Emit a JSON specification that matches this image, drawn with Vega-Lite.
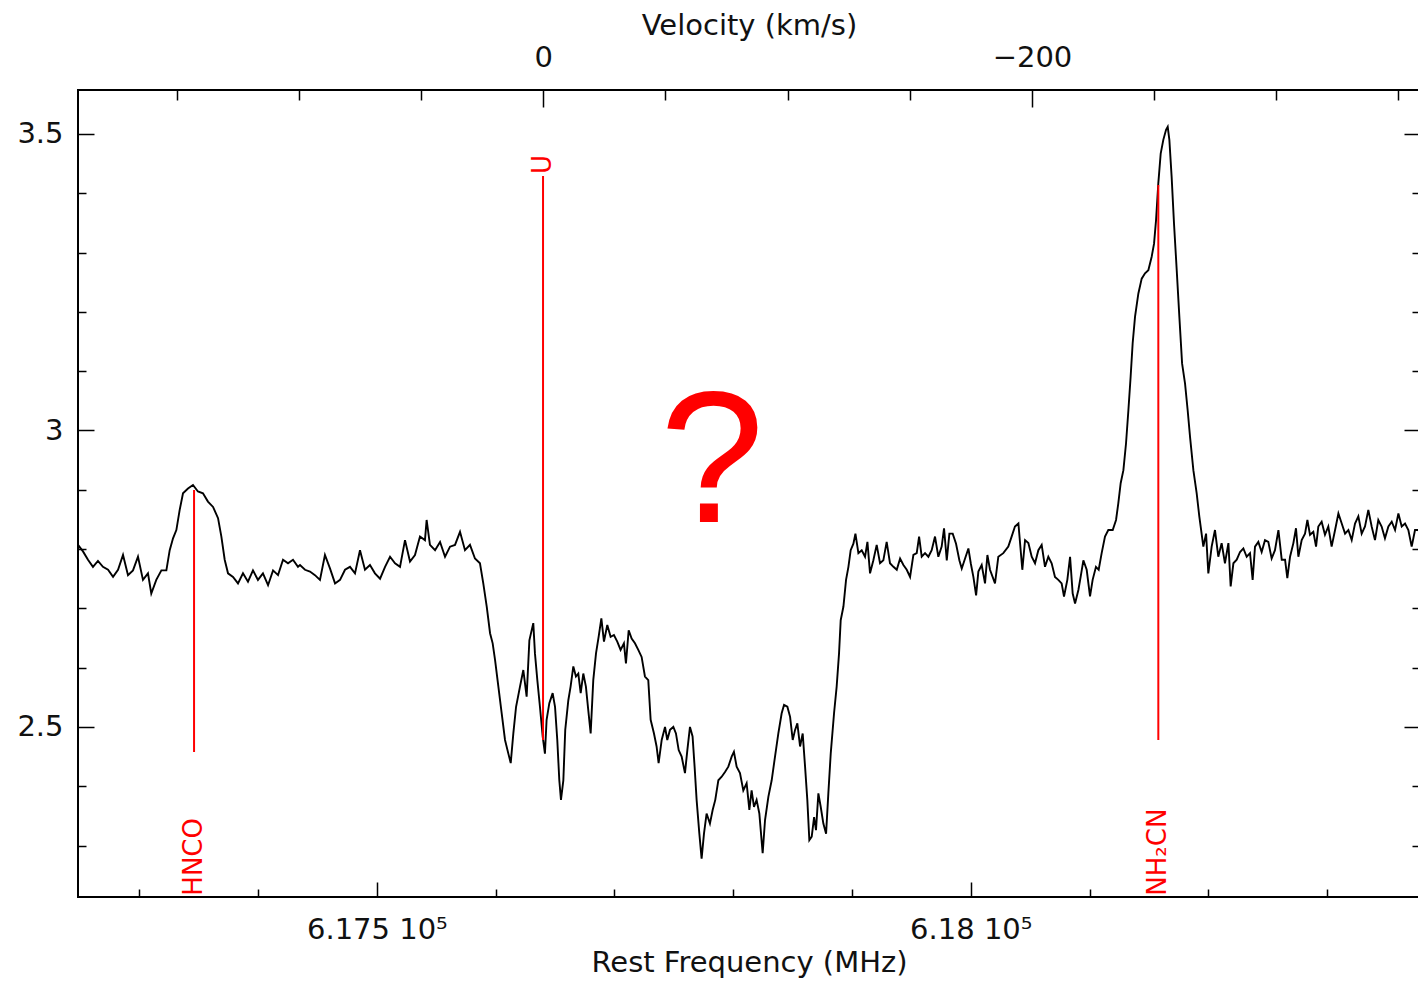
{
  "$schema": "https://vega.github.io/schema/vega-lite/v6.json",
  "width": 1342,
  "height": 807,
  "autosize": "none",
  "padding": {"left": 78, "top": 90, "right": 0, "bottom": 84},
  "background": "white",
  "config": {
    "view": {"stroke": "black", "strokeWidth": 2},
    "font": "DejaVu Sans",
    "axis": {
      "grid": false,
      "domain": false,
      "tickColor": "black",
      "tickWidth": 1.5,
      "labelColor": "#111",
      "titleColor": "#111",
      "labelFont": "DejaVu Sans",
      "titleFont": "DejaVu Sans",
      "labelFontSize": 29,
      "titleFontSize": 29,
      "titleFontWeight": "normal",
      "labelFlush": false,
      "labelOverlap": false,
      "labelBound": false
    }
  },
  "datasets": {
    "spectrum": [
      {"freq": 617248.4, "flux": 2.807}, {"freq": 617252.6, "flux": 2.796}, {"freq": 617256.8, "flux": 2.782}, {"freq": 617261.0, "flux": 2.770},
      {"freq": 617265.2, "flux": 2.780}, {"freq": 617269.4, "flux": 2.770}, {"freq": 617273.7, "flux": 2.765}, {"freq": 617277.9, "flux": 2.753},
      {"freq": 617282.1, "flux": 2.765}, {"freq": 617286.3, "flux": 2.790}, {"freq": 617290.5, "flux": 2.756}, {"freq": 617294.7, "flux": 2.764},
      {"freq": 617298.9, "flux": 2.787}, {"freq": 617303.1, "flux": 2.748}, {"freq": 617307.3, "flux": 2.759}, {"freq": 617310.1, "flux": 2.725},
      {"freq": 617314.3, "flux": 2.748}, {"freq": 617318.6, "flux": 2.764}, {"freq": 617322.8, "flux": 2.764}, {"freq": 617325.6, "flux": 2.798},
      {"freq": 617328.4, "flux": 2.818}, {"freq": 617331.2, "flux": 2.832}, {"freq": 617334.0, "flux": 2.866}, {"freq": 617336.8, "flux": 2.894},
      {"freq": 617341.0, "flux": 2.902}, {"freq": 617345.2, "flux": 2.908}, {"freq": 617349.4, "flux": 2.897}, {"freq": 617353.6, "flux": 2.894},
      {"freq": 617357.8, "flux": 2.880}, {"freq": 617362.1, "flux": 2.871}, {"freq": 617366.3, "flux": 2.852}, {"freq": 617369.1, "flux": 2.821},
      {"freq": 617371.9, "flux": 2.782}, {"freq": 617374.7, "flux": 2.759}, {"freq": 617378.9, "flux": 2.753}, {"freq": 617383.1, "flux": 2.742},
      {"freq": 617387.3, "flux": 2.759}, {"freq": 617391.5, "flux": 2.745}, {"freq": 617395.7, "flux": 2.764}, {"freq": 617399.9, "flux": 2.748},
      {"freq": 617404.1, "flux": 2.759}, {"freq": 617408.4, "flux": 2.739}, {"freq": 617412.6, "flux": 2.764}, {"freq": 617416.8, "flux": 2.756},
      {"freq": 617421.0, "flux": 2.782}, {"freq": 617425.2, "flux": 2.776}, {"freq": 617429.4, "flux": 2.782}, {"freq": 617433.6, "flux": 2.770},
      {"freq": 617435.3, "flux": 2.773}, {"freq": 617439.5, "flux": 2.765}, {"freq": 617443.7, "flux": 2.762}, {"freq": 617447.9, "flux": 2.756},
      {"freq": 617452.1, "flux": 2.748}, {"freq": 617456.3, "flux": 2.790}, {"freq": 617460.6, "flux": 2.767}, {"freq": 617464.8, "flux": 2.742},
      {"freq": 617469.0, "flux": 2.748}, {"freq": 617473.2, "flux": 2.765}, {"freq": 617477.4, "flux": 2.770}, {"freq": 617481.6, "flux": 2.759},
      {"freq": 617485.8, "flux": 2.798}, {"freq": 617490.0, "flux": 2.765}, {"freq": 617494.2, "flux": 2.773}, {"freq": 617498.4, "flux": 2.759},
      {"freq": 617502.7, "flux": 2.750}, {"freq": 617506.9, "flux": 2.770}, {"freq": 617511.1, "flux": 2.787}, {"freq": 617515.3, "flux": 2.776},
      {"freq": 617519.5, "flux": 2.770}, {"freq": 617523.7, "flux": 2.815}, {"freq": 617527.9, "flux": 2.779}, {"freq": 617532.1, "flux": 2.790},
      {"freq": 617536.3, "flux": 2.821}, {"freq": 617540.5, "flux": 2.815}, {"freq": 617541.9, "flux": 2.849}, {"freq": 617544.7, "flux": 2.807},
      {"freq": 617549.0, "flux": 2.798}, {"freq": 617553.2, "flux": 2.812}, {"freq": 617557.4, "flux": 2.787}, {"freq": 617561.6, "flux": 2.804},
      {"freq": 617565.8, "flux": 2.807}, {"freq": 617570.0, "flux": 2.829}, {"freq": 617574.2, "flux": 2.798}, {"freq": 617578.4, "flux": 2.807},
      {"freq": 617582.6, "flux": 2.784}, {"freq": 617586.8, "flux": 2.776}, {"freq": 617589.6, "flux": 2.742}, {"freq": 617592.5, "flux": 2.703},
      {"freq": 617595.3, "flux": 2.658}, {"freq": 617597.5, "flux": 2.641}, {"freq": 617599.5, "flux": 2.613}, {"freq": 617602.3, "flux": 2.568},
      {"freq": 617605.1, "flux": 2.523}, {"freq": 617607.9, "flux": 2.478}, {"freq": 617610.7, "flux": 2.455}, {"freq": 617612.7, "flux": 2.439},
      {"freq": 617614.9, "flux": 2.489}, {"freq": 617617.2, "flux": 2.534}, {"freq": 617620.5, "flux": 2.568}, {"freq": 617623.3, "flux": 2.596},
      {"freq": 617626.1, "flux": 2.551}, {"freq": 617628.4, "flux": 2.646}, {"freq": 617631.7, "flux": 2.675}, {"freq": 617633.1, "flux": 2.624},
      {"freq": 617635.1, "flux": 2.579}, {"freq": 617637.3, "flux": 2.534}, {"freq": 617639.6, "flux": 2.484}, {"freq": 617641.5, "flux": 2.455},
      {"freq": 617642.9, "flux": 2.512}, {"freq": 617645.2, "flux": 2.540}, {"freq": 617648.0, "flux": 2.557}, {"freq": 617650.0, "flux": 2.534},
      {"freq": 617651.9, "flux": 2.478}, {"freq": 617653.6, "flux": 2.410}, {"freq": 617655.0, "flux": 2.377}, {"freq": 617657.0, "flux": 2.410},
      {"freq": 617658.6, "flux": 2.495}, {"freq": 617661.2, "flux": 2.545}, {"freq": 617663.1, "flux": 2.568}, {"freq": 617665.4, "flux": 2.602},
      {"freq": 617667.6, "flux": 2.585}, {"freq": 617669.6, "flux": 2.590}, {"freq": 617671.6, "flux": 2.557}, {"freq": 617673.8, "flux": 2.590},
      {"freq": 617676.0, "flux": 2.568}, {"freq": 617678.0, "flux": 2.528}, {"freq": 617680.0, "flux": 2.489}, {"freq": 617682.2, "flux": 2.579},
      {"freq": 617684.5, "flux": 2.624}, {"freq": 617686.7, "flux": 2.652}, {"freq": 617689.0, "flux": 2.683}, {"freq": 617691.2, "flux": 2.644},
      {"freq": 617694.0, "flux": 2.672}, {"freq": 617696.8, "flux": 2.652}, {"freq": 617699.6, "flux": 2.655}, {"freq": 617702.4, "flux": 2.644},
      {"freq": 617705.2, "flux": 2.630}, {"freq": 617708.0, "flux": 2.641}, {"freq": 617709.7, "flux": 2.607}, {"freq": 617712.0, "flux": 2.663},
      {"freq": 617714.5, "flux": 2.649}, {"freq": 617717.3, "flux": 2.641}, {"freq": 617720.1, "flux": 2.630}, {"freq": 617722.9, "flux": 2.618},
      {"freq": 617725.7, "flux": 2.585}, {"freq": 617728.5, "flux": 2.579}, {"freq": 617730.5, "flux": 2.512}, {"freq": 617733.3, "flux": 2.489},
      {"freq": 617735.5, "flux": 2.467}, {"freq": 617737.2, "flux": 2.439}, {"freq": 617739.8, "flux": 2.478}, {"freq": 617742.6, "flux": 2.500},
      {"freq": 617744.5, "flux": 2.478}, {"freq": 617746.8, "flux": 2.495}, {"freq": 617749.6, "flux": 2.500}, {"freq": 617751.8, "flux": 2.489},
      {"freq": 617754.1, "flux": 2.461}, {"freq": 617756.6, "flux": 2.450}, {"freq": 617759.4, "flux": 2.422}, {"freq": 617761.4, "flux": 2.461},
      {"freq": 617763.6, "flux": 2.500}, {"freq": 617765.8, "flux": 2.484}, {"freq": 617767.5, "flux": 2.433}, {"freq": 617769.2, "flux": 2.377},
      {"freq": 617771.5, "flux": 2.320}, {"freq": 617773.4, "flux": 2.278}, {"freq": 617775.4, "flux": 2.320}, {"freq": 617777.6, "flux": 2.354},
      {"freq": 617780.4, "flux": 2.337}, {"freq": 617782.7, "flux": 2.360}, {"freq": 617784.9, "flux": 2.377}, {"freq": 617787.5, "flux": 2.410},
      {"freq": 617790.3, "flux": 2.416}, {"freq": 617793.1, "flux": 2.424}, {"freq": 617795.9, "flux": 2.433}, {"freq": 617798.7, "flux": 2.450},
      {"freq": 617800.6, "flux": 2.458}, {"freq": 617802.9, "flux": 2.433}, {"freq": 617805.7, "flux": 2.422}, {"freq": 617808.5, "flux": 2.393},
      {"freq": 617811.3, "flux": 2.405}, {"freq": 617813.6, "flux": 2.360}, {"freq": 617815.5, "flux": 2.393}, {"freq": 617817.5, "flux": 2.365},
      {"freq": 617819.7, "flux": 2.377}, {"freq": 617822.0, "flux": 2.354}, {"freq": 617824.8, "flux": 2.287}, {"freq": 617826.8, "flux": 2.343},
      {"freq": 617829.6, "flux": 2.382}, {"freq": 617832.4, "flux": 2.410}, {"freq": 617835.2, "flux": 2.450}, {"freq": 617838.0, "flux": 2.489},
      {"freq": 617840.8, "flux": 2.523}, {"freq": 617842.8, "flux": 2.537}, {"freq": 617845.6, "flux": 2.534}, {"freq": 617847.9, "flux": 2.517},
      {"freq": 617850.1, "flux": 2.478}, {"freq": 617852.1, "flux": 2.495}, {"freq": 617854.0, "flux": 2.506}, {"freq": 617856.3, "flux": 2.467},
      {"freq": 617858.5, "flux": 2.489}, {"freq": 617860.5, "flux": 2.433}, {"freq": 617862.4, "flux": 2.377}, {"freq": 617864.1, "flux": 2.309},
      {"freq": 617866.1, "flux": 2.315}, {"freq": 617868.1, "flux": 2.348}, {"freq": 617869.7, "flux": 2.326}, {"freq": 617871.7, "flux": 2.388},
      {"freq": 617873.7, "flux": 2.365}, {"freq": 617875.9, "flux": 2.337}, {"freq": 617878.2, "flux": 2.320}, {"freq": 617880.1, "flux": 2.388},
      {"freq": 617882.1, "flux": 2.455}, {"freq": 617884.9, "flux": 2.523}, {"freq": 617887.1, "flux": 2.568}, {"freq": 617889.1, "flux": 2.624},
      {"freq": 617890.5, "flux": 2.680}, {"freq": 617892.8, "flux": 2.703}, {"freq": 617895.0, "flux": 2.748}, {"freq": 617897.0, "flux": 2.770},
      {"freq": 617898.9, "flux": 2.798}, {"freq": 617901.2, "flux": 2.809}, {"freq": 617902.9, "flux": 2.826}, {"freq": 617905.4, "flux": 2.793},
      {"freq": 617908.2, "flux": 2.798}, {"freq": 617911.0, "flux": 2.787}, {"freq": 617913.0, "flux": 2.812}, {"freq": 617915.2, "flux": 2.759},
      {"freq": 617918.0, "flux": 2.781}, {"freq": 617920.8, "flux": 2.807}, {"freq": 617923.6, "flux": 2.776}, {"freq": 617926.4, "flux": 2.781},
      {"freq": 617929.2, "flux": 2.812}, {"freq": 617932.0, "flux": 2.776}, {"freq": 617934.9, "flux": 2.770}, {"freq": 617937.7, "flux": 2.765},
      {"freq": 617940.5, "flux": 2.784}, {"freq": 617943.3, "flux": 2.773}, {"freq": 617946.1, "flux": 2.765}, {"freq": 617948.9, "flux": 2.753},
      {"freq": 617951.7, "flux": 2.790}, {"freq": 617954.5, "flux": 2.793}, {"freq": 617956.5, "flux": 2.821}, {"freq": 617958.7, "flux": 2.787},
      {"freq": 617961.5, "flux": 2.793}, {"freq": 617964.3, "flux": 2.787}, {"freq": 617967.1, "flux": 2.798}, {"freq": 617969.9, "flux": 2.821},
      {"freq": 617972.7, "flux": 2.787}, {"freq": 617975.5, "flux": 2.804}, {"freq": 617977.5, "flux": 2.835}, {"freq": 617979.8, "flux": 2.781},
      {"freq": 617982.0, "flux": 2.826}, {"freq": 617984.8, "flux": 2.826}, {"freq": 617987.6, "flux": 2.809}, {"freq": 617990.4, "flux": 2.781},
      {"freq": 617992.4, "flux": 2.767}, {"freq": 617995.2, "flux": 2.784}, {"freq": 617998.0, "flux": 2.801}, {"freq": 618000.0, "flux": 2.776},
      {"freq": 618002.2, "flux": 2.753}, {"freq": 618004.5, "flux": 2.722}, {"freq": 618006.4, "flux": 2.762}, {"freq": 618009.2, "flux": 2.773},
      {"freq": 618012.0, "flux": 2.742}, {"freq": 618014.0, "flux": 2.790}, {"freq": 618016.2, "flux": 2.765}, {"freq": 618020.4, "flux": 2.742},
      {"freq": 618023.2, "flux": 2.787}, {"freq": 618027.4, "flux": 2.793}, {"freq": 618031.6, "flux": 2.804}, {"freq": 618034.4, "flux": 2.821},
      {"freq": 618037.2, "flux": 2.838}, {"freq": 618040.1, "flux": 2.843}, {"freq": 618043.4, "flux": 2.765}, {"freq": 618045.7, "flux": 2.815},
      {"freq": 618048.5, "flux": 2.810}, {"freq": 618051.3, "flux": 2.787}, {"freq": 618054.1, "flux": 2.776}, {"freq": 618056.9, "flux": 2.798},
      {"freq": 618059.7, "flux": 2.807}, {"freq": 618062.5, "flux": 2.770}, {"freq": 618065.3, "flux": 2.787}, {"freq": 618068.1, "flux": 2.776},
      {"freq": 618070.9, "flux": 2.753}, {"freq": 618073.7, "flux": 2.748}, {"freq": 618076.5, "flux": 2.742}, {"freq": 618078.5, "flux": 2.720},
      {"freq": 618081.3, "flux": 2.748}, {"freq": 618083.6, "flux": 2.787}, {"freq": 618085.8, "flux": 2.725}, {"freq": 618087.8, "flux": 2.708},
      {"freq": 618090.6, "flux": 2.731}, {"freq": 618092.5, "flux": 2.753}, {"freq": 618094.8, "flux": 2.781}, {"freq": 618097.6, "flux": 2.765},
      {"freq": 618100.4, "flux": 2.720}, {"freq": 618102.6, "flux": 2.748}, {"freq": 618105.4, "flux": 2.770}, {"freq": 618107.7, "flux": 2.765},
      {"freq": 618110.2, "flux": 2.793}, {"freq": 618113.0, "flux": 2.821}, {"freq": 618115.8, "flux": 2.832}, {"freq": 618119.5, "flux": 2.832},
      {"freq": 618122.3, "flux": 2.849}, {"freq": 618124.2, "flux": 2.877}, {"freq": 618126.2, "flux": 2.911}, {"freq": 618128.5, "flux": 2.933},
      {"freq": 618130.7, "flux": 2.978}, {"freq": 618132.7, "flux": 3.034}, {"freq": 618134.6, "flux": 3.091}, {"freq": 618136.3, "flux": 3.147},
      {"freq": 618138.3, "flux": 3.192}, {"freq": 618141.1, "flux": 3.231}, {"freq": 618143.9, "flux": 3.256}, {"freq": 618146.7, "flux": 3.265},
      {"freq": 618149.5, "flux": 3.270}, {"freq": 618152.3, "flux": 3.293}, {"freq": 618154.3, "flux": 3.315}, {"freq": 618156.0, "flux": 3.355},
      {"freq": 618157.9, "flux": 3.417}, {"freq": 618159.9, "flux": 3.467}, {"freq": 618162.1, "flux": 3.490}, {"freq": 618164.4, "flux": 3.507},
      {"freq": 618165.8, "flux": 3.512}, {"freq": 618167.2, "flux": 3.490}, {"freq": 618169.1, "flux": 3.428}, {"freq": 618171.1, "flux": 3.349},
      {"freq": 618173.4, "flux": 3.270}, {"freq": 618175.6, "flux": 3.192}, {"freq": 618177.9, "flux": 3.113}, {"freq": 618180.4, "flux": 3.079},
      {"freq": 618182.6, "flux": 3.034}, {"freq": 618184.6, "flux": 2.989}, {"freq": 618187.4, "flux": 2.933}, {"freq": 618190.2, "flux": 2.894},
      {"freq": 618192.4, "flux": 2.855}, {"freq": 618195.8, "flux": 2.804}, {"freq": 618198.1, "flux": 2.826}, {"freq": 618200.0, "flux": 2.759},
      {"freq": 618202.8, "flux": 2.804}, {"freq": 618205.6, "flux": 2.832}, {"freq": 618208.4, "flux": 2.787}, {"freq": 618211.2, "flux": 2.810},
      {"freq": 618214.0, "flux": 2.776}, {"freq": 618216.9, "flux": 2.810}, {"freq": 618218.8, "flux": 2.737}, {"freq": 618221.1, "flux": 2.776},
      {"freq": 618223.9, "flux": 2.782}, {"freq": 618226.7, "flux": 2.795}, {"freq": 618229.5, "flux": 2.801}, {"freq": 618232.3, "flux": 2.787},
      {"freq": 618235.1, "flux": 2.793}, {"freq": 618237.3, "flux": 2.748}, {"freq": 618239.3, "flux": 2.804}, {"freq": 618242.1, "flux": 2.812},
      {"freq": 618244.9, "flux": 2.795}, {"freq": 618247.7, "flux": 2.815}, {"freq": 618250.5, "flux": 2.812}, {"freq": 618253.3, "flux": 2.784},
      {"freq": 618256.1, "flux": 2.798}, {"freq": 618259.0, "flux": 2.832}, {"freq": 618261.8, "flux": 2.782}, {"freq": 618264.6, "flux": 2.782},
      {"freq": 618266.5, "flux": 2.751}, {"freq": 618268.8, "flux": 2.787}, {"freq": 618271.6, "flux": 2.810}, {"freq": 618273.8, "flux": 2.835},
      {"freq": 618275.8, "flux": 2.787}, {"freq": 618278.6, "flux": 2.815}, {"freq": 618281.4, "flux": 2.826}, {"freq": 618283.4, "flux": 2.849},
      {"freq": 618285.6, "flux": 2.824}, {"freq": 618288.4, "flux": 2.829}, {"freq": 618290.7, "flux": 2.804}, {"freq": 618292.6, "flux": 2.838},
      {"freq": 618295.4, "flux": 2.846}, {"freq": 618298.2, "flux": 2.824}, {"freq": 618301.0, "flux": 2.838}, {"freq": 618303.8, "flux": 2.804},
      {"freq": 618306.7, "flux": 2.832}, {"freq": 618309.5, "flux": 2.860}, {"freq": 618312.3, "flux": 2.843}, {"freq": 618315.1, "flux": 2.826},
      {"freq": 618317.9, "flux": 2.832}, {"freq": 618320.7, "flux": 2.815}, {"freq": 618323.5, "flux": 2.843}, {"freq": 618326.3, "flux": 2.855},
      {"freq": 618329.1, "flux": 2.826}, {"freq": 618331.9, "flux": 2.838}, {"freq": 618334.7, "flux": 2.866}, {"freq": 618337.5, "flux": 2.838},
      {"freq": 618340.3, "flux": 2.815}, {"freq": 618343.1, "flux": 2.849}, {"freq": 618345.9, "flux": 2.838}, {"freq": 618348.7, "flux": 2.818},
      {"freq": 618351.6, "flux": 2.838}, {"freq": 618354.4, "flux": 2.846}, {"freq": 618357.2, "flux": 2.832}, {"freq": 618360.0, "flux": 2.860},
      {"freq": 618362.8, "flux": 2.838}, {"freq": 618365.6, "flux": 2.843}, {"freq": 618368.4, "flux": 2.832}, {"freq": 618371.2, "flux": 2.804},
      {"freq": 618374.0, "flux": 2.832}, {"freq": 618376.5, "flux": 2.832}, {"freq": 618378.2, "flux": 2.830}
    ],
    "lines": [
      {"species": "HNCO", "freq": 617346.1, "top": 2.8995, "bottom": 2.4577, "labelAt": 2.2155},
      {"species": "U", "freq": 617639.9, "top": 3.429, "bottom": 2.478, "labelAt": 3.4324},
      {"species": "NH₂CN", "freq": 618157.9, "top": 3.414, "bottom": 2.478, "labelAt": 2.2155}
    ],
    "mark": [
      {"text": "?", "freq": 617782.2, "flux": 2.8455}
    ],
    "velocityAxis": [
      {"velocity": 0, "flux": 3}
    ]
  },
  "layer": [
    {
      "data": {"name": "spectrum"},
      "mark": {"type": "line", "color": "black", "strokeWidth": 1.9},
      "encoding": {
        "x": {
          "field": "freq", "type": "quantitative",
          "scale": {"domain": [617248.4, 618378.2], "nice": false, "zero": false},
          "axis": {
            "orient": "bottom",
            "values": [617300, 617400, 617500, 617600, 617700, 617800, 617900, 618000, 618100, 618200, 618300],
            "tickSize": {"condition": {"test": "datum.value % 500 === 0", "value": -15}, "value": -8},
            "labelExpr": "datum.value % 500 === 0 ? format(datum.value / 100000, '.4~f') + ' 10⁵' : ''",
            "labelPadding": 33,
            "title": "Rest Frequency (MHz)",
            "titlePadding": -3
          }
        },
        "y": {
          "field": "flux", "type": "quantitative",
          "scale": {"domain": [2.2132, 3.5741], "nice": false, "zero": false},
          "axis": {
            "orient": "left",
            "values": [2.3, 2.4, 2.5, 2.6, 2.7, 2.8, 2.9, 3.0, 3.1, 3.2, 3.3, 3.4, 3.5],
            "tickSize": {"condition": {"test": "abs(datum.value * 2 - round(datum.value * 2)) < 0.001", "value": -16}, "value": -8},
            "labelExpr": "abs(datum.value * 2 - round(datum.value * 2)) < 0.001 ? format(datum.value, '.1~f') : ''",
            "labelPadding": 31,
            "title": null
          }
        }
      }
    },
    {
      "data": {"name": "lines"},
      "mark": {"type": "rule", "color": "#ff0000", "strokeWidth": 2},
      "encoding": {
        "x": {"field": "freq", "type": "quantitative", "scale": {"domain": [617248.4, 618378.2], "nice": false, "zero": false}, "axis": null},
        "y": {"field": "top", "type": "quantitative", "scale": {"domain": [2.2132, 3.5741], "nice": false, "zero": false}, "axis": null},
        "y2": {"field": "bottom"}
      }
    },
    {
      "data": {"name": "lines"},
      "mark": {"type": "text", "color": "#ff0000", "angle": 270, "align": "left", "baseline": "middle", "font": "DejaVu Sans", "fontSize": 26},
      "encoding": {
        "x": {"field": "freq", "type": "quantitative", "scale": {"domain": [617248.4, 618378.2], "nice": false, "zero": false}, "axis": null},
        "y": {"field": "labelAt", "type": "quantitative", "scale": {"domain": [2.2132, 3.5741], "nice": false, "zero": false}, "axis": null},
        "text": {"field": "species"}
      }
    },
    {
      "data": {"name": "mark"},
      "mark": {"type": "text", "color": "#ff0000", "align": "center", "baseline": "alphabetic", "font": "Liberation Sans", "fontSize": 188},
      "encoding": {
        "x": {"field": "freq", "type": "quantitative", "scale": {"domain": [617248.4, 618378.2], "nice": false, "zero": false}, "axis": null},
        "y": {"field": "flux", "type": "quantitative", "scale": {"domain": [2.2132, 3.5741], "nice": false, "zero": false}, "axis": null},
        "text": {"field": "text"}
      }
    },
    {
      "data": {"name": "velocityAxis"},
      "mark": {"type": "point", "opacity": 0},
      "encoding": {
        "x": {
          "field": "velocity", "type": "quantitative",
          "scale": {"domain": [-358.8, 190.4], "reverse": true, "nice": false, "zero": false},
          "axis": {
            "orient": "top",
            "values": [-350, -300, -250, -200, -150, -100, -50, 0, 50, 100, 150],
            "tickSize": {"condition": {"test": "datum.value % 200 === 0", "value": -17}, "value": -10},
            "labelExpr": "datum.value % 200 === 0 ? format(datum.value, 'd') : ''",
            "labelPadding": 35,
            "title": "Velocity (km/s)",
            "titlePadding": -4
          }
        },
        "y": {
          "field": "flux", "type": "quantitative",
          "scale": {"domain": [2.2132, 3.5741], "nice": false, "zero": false},
          "axis": {
            "orient": "right",
            "values": [2.3, 2.4, 2.5, 2.6, 2.7, 2.8, 2.9, 3.0, 3.1, 3.2, 3.3, 3.4, 3.5],
            "tickSize": {"condition": {"test": "abs(datum.value * 2 - round(datum.value * 2)) < 0.001", "value": -16}, "value": -8},
            "labels": false,
            "title": null
          }
        }
      }
    }
  ],
  "resolve": {"scale": {"x": "independent"}, "axis": {"x": "independent", "y": "independent"}}
}
